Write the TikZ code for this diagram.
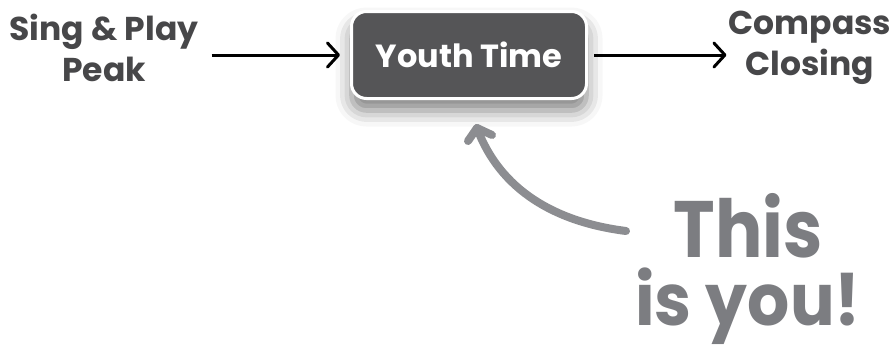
\documentclass[tikz,border=0pt]{standalone}
\usepackage{fontspec}
\setmainfont{Poppins}
\usetikzlibrary{arrows.meta,shadows.blur}
\definecolor{labelgray}{HTML}{474749}
\definecolor{boxgray}{HTML}{555557}
\definecolor{curvegray}{HTML}{8C8D91}
\definecolor{bigtextgray}{HTML}{7C7D81}
\tikzset{
  label/.style={font=\fontsize{33}{41}\selectfont\bfseries, text=labelgray, align=center, inner sep=0pt},
  flowarrow/.style={line width=3pt, -{Straight Barb[length=11pt,width=24pt,round]}},
  youbox/.style={draw=white, line width=3pt, fill=boxgray, rounded corners=15pt,
    minimum width=235pt, minimum height=87pt, text=white,
    font=\fontsize{32}{36}\selectfont\bfseries,
    blur shadow={shadow xshift=0pt, shadow yshift=-12pt, shadow blur radius=16pt, shadow opacity=50}},
  pointer/.style={draw=curvegray, line width=8pt, line cap=round, line join=round},
  bigtext/.style={text=bigtextgray, inner sep=0pt, anchor=base}
}
\begin{document}
\begin{tikzpicture}[x=1pt,y=-1pt]
\useasboundingbox (0,0) rectangle (891,354);
\node[label] (sing) at (104,48) {Sing \& Play\\Peak};
\node[youbox] (youth) at (469,55) {Youth Time};
\node[label] (compass) at (810,48) {Compass\\Closing};
\draw[flowarrow, shorten <=13pt, shorten >=10pt] (sing.east |- youth.west) -- (youth.west);
\draw[flowarrow, shorten <=6pt, shorten >=2pt] (youth.east) -- (compass.west |- youth.east);
\node[bigtext, font=\fontsize{80}{90}\selectfont\bfseries, xscale=0.88, text depth=0pt] (this) at (748,257) {This};
\node[bigtext, font=\fontsize{72}{80}\selectfont\bfseries, xscale=0.92, text height=0.62em] (isyou) at (748,325) {is you!};
\coordinate (tail) at (626,231);
\coordinate (tip) at (477,128);
\coordinate (armL) at (468,141);
\coordinate (armR) at (492,135);
\draw[pointer] (tail) .. controls (555,222) and (500,190) .. (tip);
\draw[pointer] (armL) -- (tip) -- (armR);
\end{tikzpicture}
\end{document}
